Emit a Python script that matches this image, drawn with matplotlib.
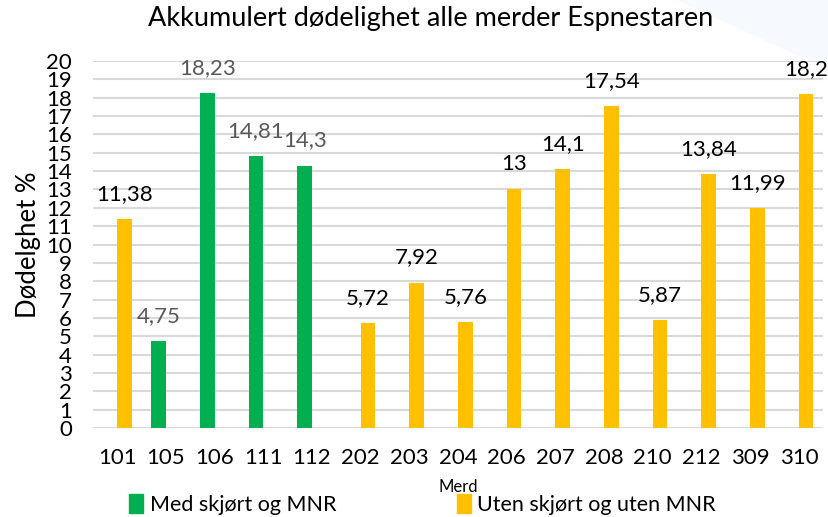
import matplotlib.pyplot as plt
from matplotlib.patches import Patch, Polygon

plt.rcParams['font.family'] = ['Lato', 'DejaVu Sans']

merder = ['101', '105', '106', '111', '112', '202', '203', '204', '206',
          '207', '208', '210', '212', '309', '310']
dodelighet = [11.38, 4.75, 18.23, 14.81, 14.3, 5.72, 7.92, 5.76, 13,
              14.1, 17.54, 5.87, 13.84, 11.99, 18.2]
med_mnr = ['105', '106', '111', '112']
etiketter = ['11,38', '4,75', '18,23', '14,81', '14,3', '5,72', '7,92', '5,76', '13',
             '14,1', '17,54', '5,87', '13,84', '11,99', '18,2']

GREEN = '#00B050'
YELLOW = '#FFC000'
W = 0.3

fig = plt.figure(figsize=(8.29, 5.17), dpi=100)
# faint decorative shape in top-right corner (behind everything)
fig.patches.append(Polygon([[0.817, 1.0], [1.0, 1.0], [1.0, 0.865]], closed=True,
                           transform=fig.transFigure, facecolor='#F6FAFE',
                           edgecolor='none', zorder=-5))

ax = fig.add_axes([0.112, 0.172, 0.881, 0.710])
ax.patch.set_alpha(0)

# two series as in Excel: green in the left slot, yellow in the right slot
for i, (m, v, lab) in enumerate(zip(merder, dodelighet, etiketter)):
    gruppe = m in med_mnr
    x = i - W / 2 if gruppe else i + W / 2
    ax.bar(x, v, width=W, color=GREEN if gruppe else YELLOW, zorder=3)
    ax.annotate(lab, (x, v), xytext=(0, 11), textcoords='offset points',
                ha='center', va='bottom', fontsize=16,
                color='#595959' if gruppe else 'black')

ax.set_ylim(0, 20)
ax.set_xlim(-0.5, len(merder) - 0.5)
ax.set_yticks(range(0, 21))
ax.set_xticks(range(len(merder)))
ax.set_xticklabels(merder)
ax.tick_params(axis='both', length=0, labelsize=16)
ax.tick_params(axis='x', pad=14)
ax.tick_params(axis='y', pad=15)
ax.grid(axis='y', color='#D9D9D9', linewidth=1.5, zorder=0)
for s in ax.spines.values():
    s.set_visible(False)

ax.set_ylabel('Dødelghet %', fontsize=18.5, labelpad=4)
ax.set_xlabel('Merd', fontsize=12, labelpad=8)
fig.text(0.52, 0.964, 'Akkumulert dødelighet alle merder Espnestaren',
         ha='center', va='center', fontsize=19.5)

handles = [Patch(color=GREEN, label='Med skjørt og MNR'),
           Patch(color=YELLOW, label='Uten skjørt og uten MNR')]
fig.legend(handles=handles, loc='center', bbox_to_anchor=(0.51, 0.024), ncol=2,
           frameon=False, fontsize=15.5, handlelength=0.65, handleheight=1.0,
           handletextpad=0.3, columnspacing=5.6)

fig.savefig('out.png', dpi=100, facecolor='white')
